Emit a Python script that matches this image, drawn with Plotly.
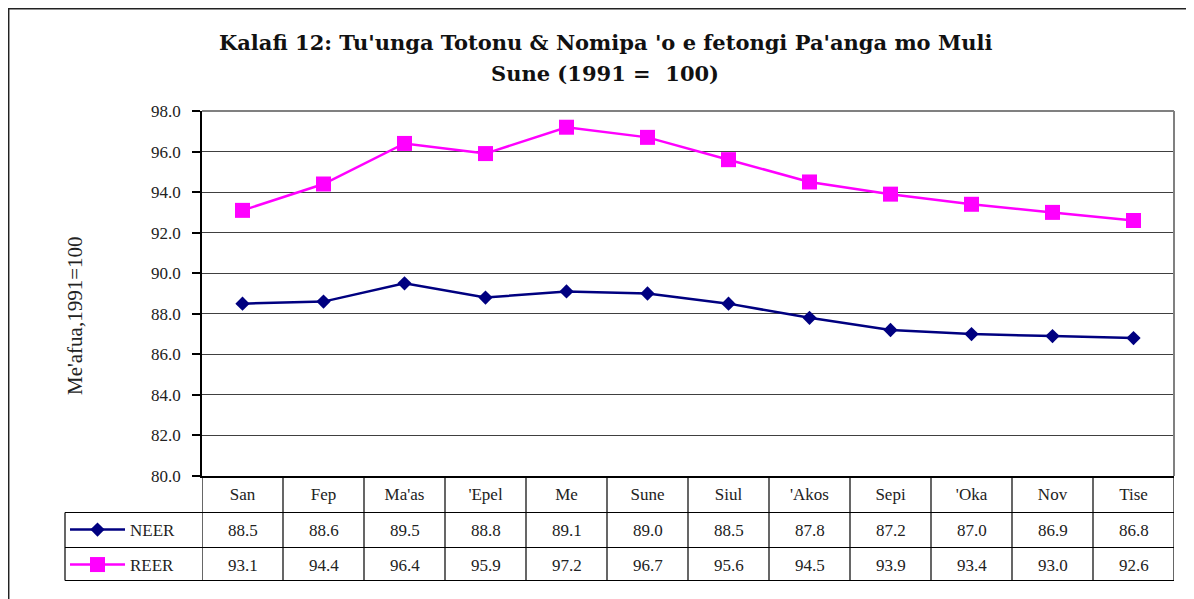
import plotly.graph_objects as go

months = ["San", "Fep", "Ma'as", "'Epel", "Me", "Sune", "Siul", "'Akos", "Sepi", "'Oka", "Nov", "Tise"]
neer = [88.5, 88.6, 89.5, 88.8, 89.1, 89.0, 88.5, 87.8, 87.2, 87.0, 86.9, 86.8]
reer = [93.1, 94.4, 96.4, 95.9, 97.2, 96.7, 95.6, 94.5, 93.9, 93.4, 93.0, 92.6]
series_names = ["NEER", "REER"]
y_ticks = [80, 82, 84, 86, 88, 90, 92, 94, 96, 98]

FONT = "Liberation Serif"
TFONT = "DejaVu Serif"
OFF = 8  # browser default body margin
W, H = 1194 - OFF, 599 - OFF
PLOT_L, PLOT_R, PLOT_T, PLOT_B = 202, 1174, 111, 476  # screen pixels
L = PLOT_L - OFF
T = PLOT_T - OFF
R = W - (PLOT_R - OFF)
B = H - (PLOT_B - OFF)
PW, PH = PLOT_R - PLOT_L, PLOT_B - PLOT_T


def px_x(p):
    return (p - PLOT_L) / PW


def px_y(p):
    return (PLOT_B - p) / PH


fig = go.Figure()
fig.add_trace(go.Scatter(
    x=months, y=neer, name=series_names[0], mode="lines+markers",
    line=dict(color="#000080", width=2.5),
    marker=dict(symbol="diamond", size=11, color="#000080"),
    legend="legend", cliponaxis=False,
))
fig.add_trace(go.Scatter(
    x=months, y=reer, name=series_names[1], mode="lines+markers",
    line=dict(color="#FF00FF", width=2.5),
    marker=dict(symbol="square", size=15, color="#FF00FF"),
    legend="legend2", cliponaxis=False,
))

shapes = []
ann = []

# outer chart frame
shapes.append(dict(type="rect", xref="paper", yref="paper",
                   x0=px_x(8.7), x1=px_x(1193), y0=px_y(620), y1=px_y(8.7),
                   line=dict(color="#222222", width=1.5), layer="below"))
# plot area top and right borders
shapes.append(dict(type="line", xref="paper", yref="paper", x0=0, x1=1, y0=1, y1=1,
                   line=dict(color="#808080", width=2)))
shapes.append(dict(type="line", xref="paper", yref="paper", x0=1, x1=1, y0=0, y1=1,
                   line=dict(color="#808080", width=2)))

# data table grid
row_top = px_y(512.5)
row_mid = px_y(547.5)
row_bot = px_y(580.5)
left_tab = px_x(65)
for yy in (row_top, row_mid, row_bot):
    shapes.append(dict(type="line", xref="paper", yref="paper", x0=left_tab, x1=1, y0=yy, y1=yy,
                       line=dict(color="#000000", width=1.2)))
shapes.append(dict(type="line", xref="paper", yref="paper", x0=left_tab, x1=left_tab,
                   y0=row_bot, y1=row_top, line=dict(color="#000000", width=1.2)))
for i in range(len(months) + 1):
    shapes.append(dict(type="line", xref="x", yref="paper", x0=i - 0.5, x1=i - 0.5,
                       y0=row_bot, y1=0, line=dict(color="#000000", width=1.2)))

# table values
for vals, yc in ((neer, px_y(530)), (reer, px_y(565))):
    for m, v in zip(months, vals):
        ann.append(dict(x=m, y=yc, xref="x", yref="paper", text=f"{v:.1f}",
                        showarrow=False, xanchor="center", yanchor="middle",
                        font=dict(family=FONT, size=17, color="#222222")))

# title
ann.append(dict(x=px_x(605), y=px_y(42), xref="paper", yref="paper",
                text="<b>Kalafi 12: Tu'unga Totonu & Nomipa 'o e fetongi Pa'anga mo Muli</b>",
                showarrow=False, xanchor="center", yanchor="middle",
                font=dict(family=TFONT, size=21, color="#111111")))
ann.append(dict(x=px_x(605), y=px_y(73), xref="paper", yref="paper",
                text="<b>Sune (1991 =  100)</b>",
                showarrow=False, xanchor="center", yanchor="middle",
                font=dict(family=TFONT, size=21, color="#111111")))
# y axis title
ann.append(dict(x=px_x(75), y=px_y(316), xref="paper", yref="paper",
                text="Me'afua,1991=100", textangle=-90,
                showarrow=False, xanchor="center", yanchor="middle",
                font=dict(family=FONT, size=21, color="#222222")))

legend_common = dict(xanchor="left", yanchor="middle", bgcolor="rgba(0,0,0,0)",
                     borderwidth=0, font=dict(family=FONT, size=17, color="#222222"),
                     itemwidth=55, tracegroupgap=0)

fig.update_layout(
    width=W, height=H, autosize=False,
    margin=dict(l=L, r=R, t=T, b=B, pad=0),
    paper_bgcolor="white", plot_bgcolor="white",
    showlegend=True,
    legend=dict(x=px_x(65), y=px_y(530), **legend_common),
    legend2=dict(x=px_x(65), y=px_y(565), **legend_common),
    xaxis=dict(type="category", range=[-0.5, len(months) - 0.5], showgrid=False,
               showline=True, linecolor="#000000", linewidth=1.5,
               ticks="", ticklabelstandoff=2,
               tickfont=dict(family=FONT, size=17, color="#222222"), fixedrange=True),
    yaxis=dict(range=[80, 98], tickvals=y_ticks, tickformat=".1f",
               showgrid=True, gridcolor="#404040", gridwidth=1,
               showline=True, linecolor="#000000", linewidth=1.5,
               ticks="outside", ticklen=8, tickcolor="#000000", tickwidth=1.5,
               ticklabelstandoff=8,
               tickfont=dict(family=FONT, size=17, color="#222222"), zeroline=False),
    shapes=shapes, annotations=ann,
)

fig.write_html("out.html")
